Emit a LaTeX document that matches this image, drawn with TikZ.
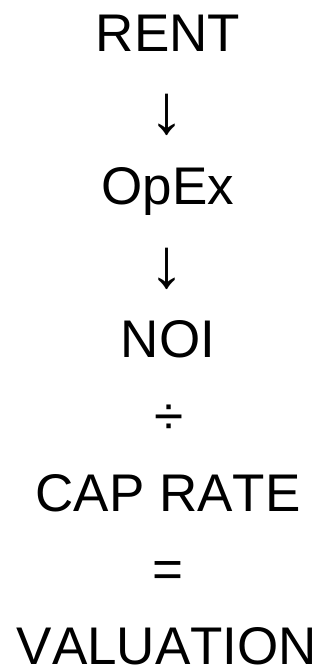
\documentclass[tikz,border=0pt]{standalone}
\usepackage{fontspec}
\setmainfont{Liberation Sans}[Kerning=Off]
\begin{document}
\begin{tikzpicture}[x=1pt,y=1pt,
  lbl/.style={anchor=base,inner sep=0pt,font=\fontsize{53}{60}\selectfont},
  arr/.style={anchor=base,inner sep=0pt,font=\fontsize{70}{80}\selectfont}]
\useasboundingbox (0,0) rectangle (321,-667);
\node[lbl] (rent) at (168,-51) {RENT};
\node[arr] (a1) at (167,-133) {↓};
\node[lbl] (opex) at (168,-204) {OpEx};
\node[arr] (a2) at (167,-287) {↓};
\node[lbl] (noi) at (168,-357) {NOI};
\node[lbl] (div) at (169,-434) {÷};
\node[lbl] (cap) at (168,-511) {CAP RATE};
\node[lbl] (eq) at (168,-587) {=};
\node[lbl] (val) at (167,-664) {VALUATION};
\end{tikzpicture}
\end{document}
